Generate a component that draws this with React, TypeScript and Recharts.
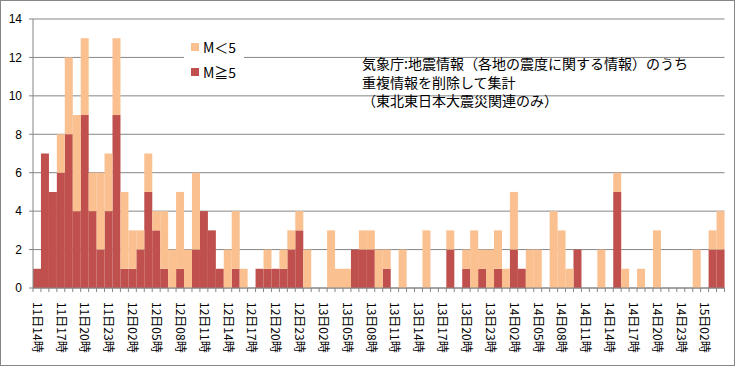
import { BarChart, Bar, XAxis, YAxis, CartesianGrid } from 'recharts';

// hourly counts from 11日14時 on (one entry per hour)
const START_DAY = 11;
const START_HOUR = 14;

const mGe5 = [
  1, 7, 5, 6, 8, 4, 9, 4, 2, 4,
  9, 1, 1, 2, 5, 3, 1, 0, 1, 0,
  2, 4, 3, 1, 0, 1, 0, 0, 1, 1,
  1, 1, 2, 3, 0, 0, 0, 0, 0, 0,
  2, 2, 2, 0, 1, 0, 0, 0, 0, 0,
  0, 0, 2, 0, 1, 0, 1, 0, 1, 0,
  2, 1, 0, 0, 0, 0, 0, 0, 2, 0,
  0, 0, 0, 5, 0, 0, 0, 0, 0, 0,
  0, 0, 0, 0, 0, 2, 2,
];

const mLt5 = [
  0, 0, 0, 2, 4, 5, 4, 2, 4, 3,
  4, 4, 2, 1, 2, 1, 3, 2, 4, 2,
  4, 0, 0, 0, 2, 3, 1, 0, 0, 1,
  0, 1, 1, 1, 2, 0, 0, 3, 1, 1,
  0, 1, 1, 2, 1, 0, 2, 0, 0, 3,
  0, 0, 1, 0, 1, 3, 1, 2, 2, 1,
  3, 0, 2, 2, 0, 4, 3, 1, 0, 0,
  0, 2, 0, 1, 1, 0, 1, 0, 3, 0,
  0, 0, 0, 2, 0, 1, 2,
];

const yTicks = [0, 2, 4, 6, 8, 10, 12, 14];

const hours = mGe5.map((_, i) => {
  const t = START_HOUR + i;
  return `${START_DAY + Math.floor(t / 24)}日${String(t % 24).padStart(2, '0')}時`;
});

const noteLines = [
  '気象庁:地震情報（各地の震度に関する情報）のうち',
  '重複情報を削除して集計',
  '（東北東日本大震災関連のみ）',
];

const SERIES = {
  lt5: { name: 'M＜5', color: '#FAC090' },
  ge5: { name: 'M≧5', color: '#C0504D' },
};

const WIDTH = 735;
const HEIGHT = 366;
const MARGIN = { top: 19, right: 10.5, left: 0, bottom: 8 };
const YAXIS_W = 33;
const AXIS_COLOR = '#868686';
const JP_FONT = '"Noto Sans CJK JP", "Noto Sans", sans-serif';

const data = hours.map((hour, i) => ({ hour, ge5: mGe5[i], lt5: mLt5[i] }));

const halfBand = (WIDTH - MARGIN.left - MARGIN.right - YAXIS_W) / hours.length / 2;

function HourTick(props: any) {
  const { x, y, payload, index } = props;
  const showLabel = index % 3 === 0;
  return (
    <g>
      <line x1={x - halfBand} x2={x - halfBand} y1={y} y2={y + 4} stroke={AXIS_COLOR} />
      {index === hours.length - 1 && (
        <line x1={x + halfBand} x2={x + halfBand} y1={y} y2={y + 4} stroke={AXIS_COLOR} />
      )}
      {showLabel && (
        <text
          x={x}
          y={y + 14}
          dy="0.35em"
          transform={`rotate(90, ${x}, ${y + 14})`}
          textAnchor="start"
          fontSize={12}
          fontFamily={JP_FONT}
          fill="#000"
        >
          {payload.value}
        </text>
      )}
    </g>
  );
}

export default function App() {
  return (
    <div style={{ position: 'absolute', left: 0, top: 0, width: WIDTH, height: HEIGHT, background: '#fff' }}>
      <BarChart
        width={WIDTH}
        height={HEIGHT}
        data={data}
        margin={MARGIN}
        barCategoryGap={0}
        barGap={0}
      >
        <CartesianGrid vertical={false} stroke={AXIS_COLOR} />
        <XAxis
          dataKey="hour"
          interval={0}
          height={70}
          tickSize={0}
          tickMargin={0}
          tickLine={false}
          axisLine={{ stroke: AXIS_COLOR }}
          tick={<HourTick />}
        />
        <YAxis
          width={YAXIS_W}
          domain={[0, 14]}
          ticks={yTicks}
          interval={0}
          tickSize={4}
          tickMargin={7}
          axisLine={{ stroke: AXIS_COLOR }}
          tickLine={{ stroke: AXIS_COLOR }}
          tick={{ fontSize: 12, fill: '#000', fontFamily: '"Liberation Sans", sans-serif' }}
        />
        <Bar dataKey="ge5" name={SERIES.ge5.name} stackId="m" fill={SERIES.ge5.color} isAnimationActive={false} />
        <Bar dataKey="lt5" name={SERIES.lt5.name} stackId="m" fill={SERIES.lt5.color} isAnimationActive={false} />
      </BarChart>

      {/* legend box, sits on top of the gridlines */}
      <div
        style={{
          position: 'absolute',
          left: 184,
          top: 34,
          width: 60,
          height: 48,
          background: '#fff',
          fontFamily: JP_FONT,
          fontSize: 14,
          color: '#000',
        }}
      >
        {[SERIES.lt5, SERIES.ge5].map((s, i) => (
          <div
            key={s.name}
            style={{ position: 'absolute', left: 7, top: 3 + i * 25, height: 20, display: 'flex', alignItems: 'center' }}
          >
            <span style={{ display: 'inline-block', width: 8, height: 8, background: s.color, marginRight: 4 }} />
            <span>{s.name}</span>
          </div>
        ))}
      </div>

      <div
        style={{
          position: 'absolute',
          left: 362,
          top: 54,
          fontFamily: JP_FONT,
          fontSize: 14,
          lineHeight: '18.5px',
          color: '#000',
          whiteSpace: 'nowrap',
        }}
      >
        {noteLines.map((t) => (
          <div key={t}>{t}</div>
        ))}
      </div>

      <div
        style={{
          position: 'absolute',
          inset: 0,
          border: `1px solid ${AXIS_COLOR}`,
          boxSizing: 'border-box',
          pointerEvents: 'none',
        }}
      />
    </div>
  );
}
